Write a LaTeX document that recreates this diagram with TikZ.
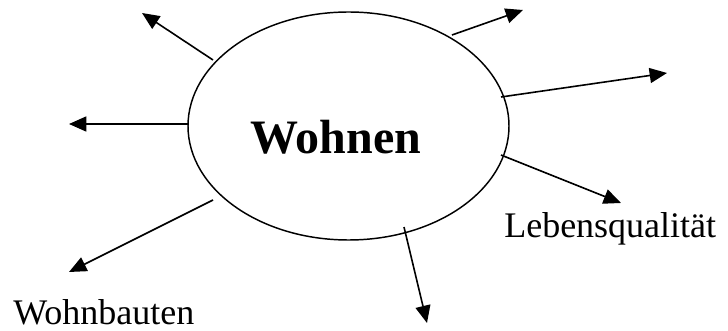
\documentclass[tikz,border=0pt]{standalone}
\usepackage{fontspec}
\setmainfont{Liberation Serif}
\usetikzlibrary{shapes.geometric,arrows.meta}

\tikzset{
	ray/.style={-{Triangle[length=13pt,width=11.25pt]}, line width=1.2pt},
	topic/.style={font=\fontsize{27}{30}\selectfont, inner sep=0pt, anchor=base west},
}

\begin{document}
\begin{tikzpicture}[x=0.75pt,y=-0.75pt]
	\useasboundingbox (0,0) rectangle (728,331);

	% Centre
	\node[draw, ellipse, line width=1.1pt, minimum width=240.75pt, minimum height=171pt, inner sep=0pt] (wohnen) at (348.5,126) {};
	\node[font=\bfseries\fontsize{36}{40}\selectfont] (wohnentext) at (336,137) {Wohnen};

	% Labels
	\node[topic] (bauten) at (13,325) {Wohnbauten};
	\node[topic] (qualitaet) at (504,238) {Lebensqualität};

	% Ray ends
	\coordinate (s1) at (213,60);   \coordinate (t1) at (142,13);
	\coordinate (s2) at (188,124);  \coordinate (t2) at (69,124);
	\coordinate (s3) at (213,200);  \coordinate (t3) at (69,272);
	\coordinate (s4) at (452,35);   \coordinate (t4) at (523,10);
	\coordinate (s5) at (501,97);   \coordinate (t5) at (667,73);
	\coordinate (s6) at (501,155);  \coordinate (t6) at (621,203);
	\coordinate (s7) at (404,227);  \coordinate (t7) at (427,323);

	% Rays
	\draw[ray] (s1) -- (t1);
	\draw[ray] (s2) -- (t2);
	\draw[ray] (s3) -- (t3);
	\draw[ray] (s4) -- (t4);
	\draw[ray] (s5) -- (t5);
	\draw[ray] (s6) -- (t6);
	\draw[ray] (s7) -- (t7);
\end{tikzpicture}
\end{document}
